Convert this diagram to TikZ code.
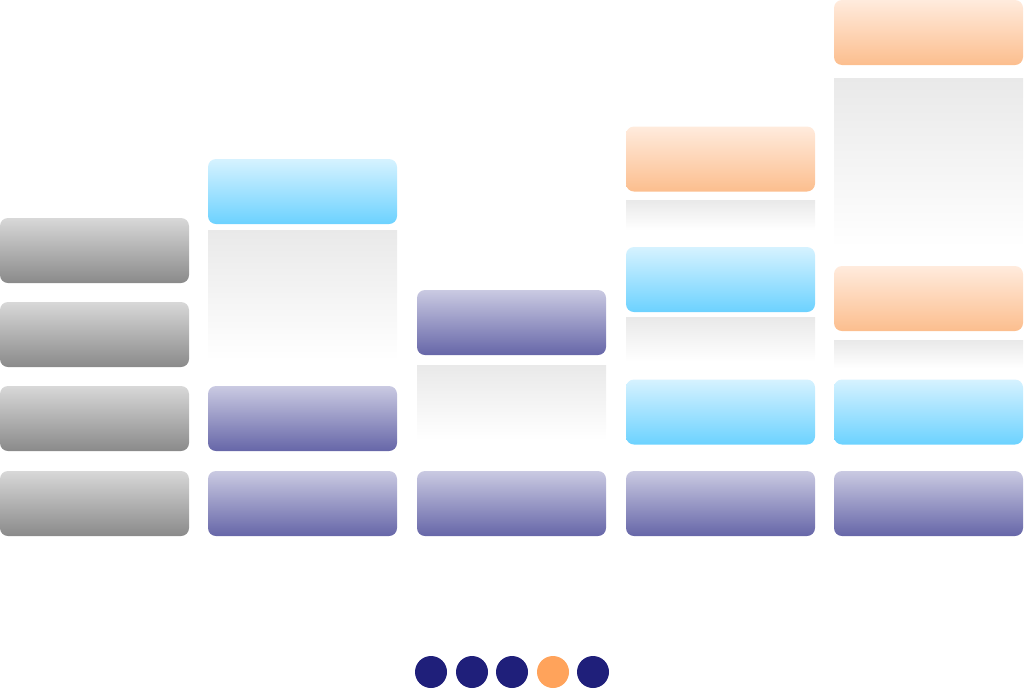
\documentclass[tikz,border=0pt]{standalone}
\usepackage{tikz}
\definecolor{greytop}{RGB}{216, 216, 216}
\definecolor{greybot}{RGB}{138, 138, 138}
\definecolor{skytop}{RGB}{214, 242, 255}
\definecolor{skybot}{RGB}{108, 210, 255}
\definecolor{peachtop}{RGB}{255, 235, 221}
\definecolor{peachbot}{RGB}{252, 190, 142}
\definecolor{lilactop}{RGB}{202, 202, 226}
\definecolor{lilacbot}{RGB}{102, 102, 168}
\definecolor{shadetop}{RGB}{233, 233, 233}
\definecolor{dotnavy}{RGB}{31, 31, 122}
\definecolor{dotpeach}{RGB}{255, 163, 91}
\tikzset{
  block/.style={rectangle, rounded corners=8pt, minimum width=189pt, minimum height=65pt, inner sep=0pt},
  greyblock/.style={block, top color=greytop, bottom color=greybot},
  skyblock/.style={block, top color=skytop, bottom color=skybot},
  peachblock/.style={block, top color=peachtop, bottom color=peachbot},
  lilacblock/.style={block, top color=lilactop, bottom color=lilacbot},
  gap/.style={rectangle, minimum width=189pt, inner sep=0pt, top color=shadetop, bottom color=white},
  dot/.style={circle, minimum size=32pt, inner sep=0pt}
}
\begin{document}
\begin{tikzpicture}[x=1pt, y=-1pt]
                    \useasboundingbox (0,0) rectangle (1024,689);
                    % first column
                    \node[greyblock] (A1) at (94.5,250.5) {};
                    \node[greyblock] (A2) at (94.5,334.5) {};
                    \node[greyblock] (A3) at (94.5,418.5) {};
                    \node[greyblock] (A4) at (94.5,503.5) {};
                    % second column
                    \node[skyblock] (B1) at (302.5,191.5) {};
                    \node[gap, minimum height=130pt] (B1s) at (302.5,295) {};
                    \node[lilacblock] (B2) at (302.5,418.5) {};
                    \node[lilacblock] (B3) at (302.5,503.5) {};
                    % third column
                    \node[lilacblock] (C1) at (511.5,322.5) {};
                    \node[gap, minimum height=75pt] (C1s) at (511.5,402.5) {};
                    \node[lilacblock] (C2) at (511.5,503.5) {};
                    % fourth column
                    \node[peachblock] (D1) at (720.5,159) {};
                    \node[gap, minimum height=30pt] (D1s) at (720.5,215) {};
                    \node[skyblock] (D2) at (720.5,279.5) {};
                    \node[gap, minimum height=45pt] (D2s) at (720.5,339.5) {};
                    \node[skyblock] (D3) at (720.5,412) {};
                    \node[lilacblock] (D4) at (720.5,503.5) {};
                    % fifth column
                    \node[peachblock] (E1) at (928.5,32.5) {};
                    \node[gap, minimum height=169pt] (E1s) at (928.5,162.5) {};
                    \node[peachblock] (E2) at (928.5,298.5) {};
                    \node[gap, minimum height=28pt] (E2s) at (928.5,354) {};
                    \node[skyblock] (E3) at (928.5,412) {};
                    \node[lilacblock] (E4) at (928.5,503.5) {};
                    % pager
                    \node[dot, fill=dotnavy] (P1) at (431,672) {};
                    \node[dot, fill=dotnavy] (P2) at (472,672) {};
                    \node[dot, fill=dotnavy] (P3) at (512,672) {};
                    \node[dot, fill=dotpeach] (P4) at (553,672) {};
                    \node[dot, fill=dotnavy] (P5) at (593,672) {};
                \end{tikzpicture}
\end{document}
